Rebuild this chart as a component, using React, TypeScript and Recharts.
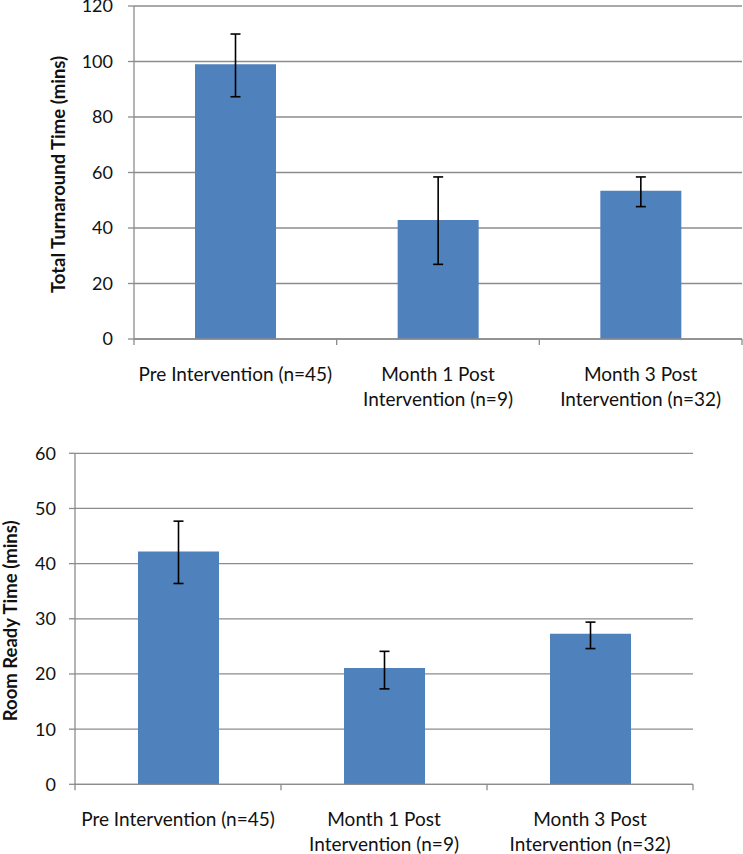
import React from 'react';
import { BarChart, Bar, XAxis, YAxis, CartesianGrid, ErrorBar, Label } from 'recharts';

const categories = [
  'Pre Intervention (n=45)',
  'Month 1 Post\nIntervention (n=9)',
  'Month 3 Post\nIntervention (n=32)',
];
const turnaroundMean = [99.0, 42.9, 53.4];
const turnaroundLow = [87.3, 26.9, 47.7];
const turnaroundHigh = [109.9, 58.4, 58.4];
const roomReadyMean = [42.2, 21.1, 27.3];
const roomReadyLow = [36.4, 17.3, 24.6];
const roomReadyHigh = [47.7, 24.1, 29.4];
const turnaroundTicks = [0, 20, 40, 60, 80, 100, 120];
const roomReadyTicks = [0, 10, 20, 30, 40, 50, 60];

const build = (mean: number[], low: number[], high: number[]) =>
  categories.map((c, i) => ({ name: c, value: mean[i], err: [mean[i] - low[i], high[i] - mean[i]] }));

const turnaroundData = build(turnaroundMean, turnaroundLow, turnaroundHigh);
const roomReadyData = build(roomReadyMean, roomReadyLow, roomReadyHigh);

const FONT = 'Lato, "Open Sans", sans-serif';
const AXIS = '#8c8c8c';
const BAR = '#4F81BD';

const CategoryTick = (props: any) => {
  const { x, y, payload, index, width, visibleTicksCount } = props;
  const band = Number(width) / visibleTicksCount;
  const lines = String(payload.value).split('\n');
  return (
    <g>
      <line x1={x - band / 2} x2={x - band / 2} y1={y} y2={y + 6} stroke={AXIS} strokeWidth={1.3} />
      {index === visibleTicksCount - 1 && (
        <line x1={x + band / 2} x2={x + band / 2} y1={y} y2={y + 6} stroke={AXIS} strokeWidth={1.3} />
      )}
      {lines.map((l, i) => (
        <text key={i} x={x} y={y + 34 + i * 25} textAnchor="middle" dominantBaseline="central"
          fontFamily={FONT} fontSize={19} fill="#111">{l}</text>
      ))}
    </g>
  );
};

const yLabel = (text: string, cx: number) => (props: any) => {
  const vb = props.viewBox;
  const cy = vb.y + vb.height / 2 + 2;
  return (
    <text x={cx} y={cy} transform={`rotate(-90, ${cx}, ${cy})`} textAnchor="middle" dominantBaseline="central"
      fontFamily={FONT} fontSize={18.5} fontWeight="bold" fill="#111">{text}</text>
  );
};

const Chart = (p: {
  data: any[]; ticks: number[]; max: number; height: number; margin: any; yWidth: number;
  title: string; titleX: number; tickMargin: number;
}) => (
  <BarChart width={743} height={p.height} data={p.data} margin={p.margin} barCategoryGap="30%">
    <CartesianGrid horizontal vertical={false} stroke={AXIS} strokeWidth={1.3} />
    <XAxis dataKey="name" interval={0} tickSize={0} tickMargin={0} height={50}
      axisLine={{ stroke: AXIS, strokeWidth: 1.3 }} tickLine={false} tick={<CategoryTick />} />
    <YAxis domain={[0, p.max]} ticks={p.ticks} width={p.yWidth} tickSize={6} tickMargin={p.tickMargin}
      axisLine={{ stroke: AXIS, strokeWidth: 1.3 }} tickLine={{ stroke: AXIS, strokeWidth: 1.3 }}
      tick={{ fontFamily: FONT, fontSize: 18, fill: '#111' }} interval={0}>
      <Label content={yLabel(p.title, p.titleX)} />
    </YAxis>
    <Bar dataKey="value" fill={BAR} isAnimationActive={false} barSize={81}>
      <ErrorBar dataKey="err" width={5} stroke="#000" strokeWidth={1.6} direction="y" isAnimationActive={false} />
    </Bar>
  </BarChart>
);

export default function App() {
  return (
    <div style={{ position: 'absolute', left: 0, top: 0, width: 743, height: 854, background: '#fff' }}>
      <div style={{ position: 'absolute', left: 0, top: 0 }}>
        <Chart data={turnaroundData} ticks={turnaroundTicks} max={120} height={420}
          margin={{ top: 6, right: 1, left: 0, bottom: 31 }} yWidth={134}
          title="Total Turnaround  Time (mins)" titleX={57.5} tickMargin={15} />
      </div>
      <div style={{ position: 'absolute', left: 0, top: 430 }}>
        <Chart data={roomReadyData} ticks={roomReadyTicks} max={60} height={424}
          margin={{ top: 23.3, right: 50, left: 0, bottom: 19.7 }} yWidth={75}
          title="Room Ready Time (mins)" titleX={10} tickMargin={13} />
      </div>
    </div>
  );
}
